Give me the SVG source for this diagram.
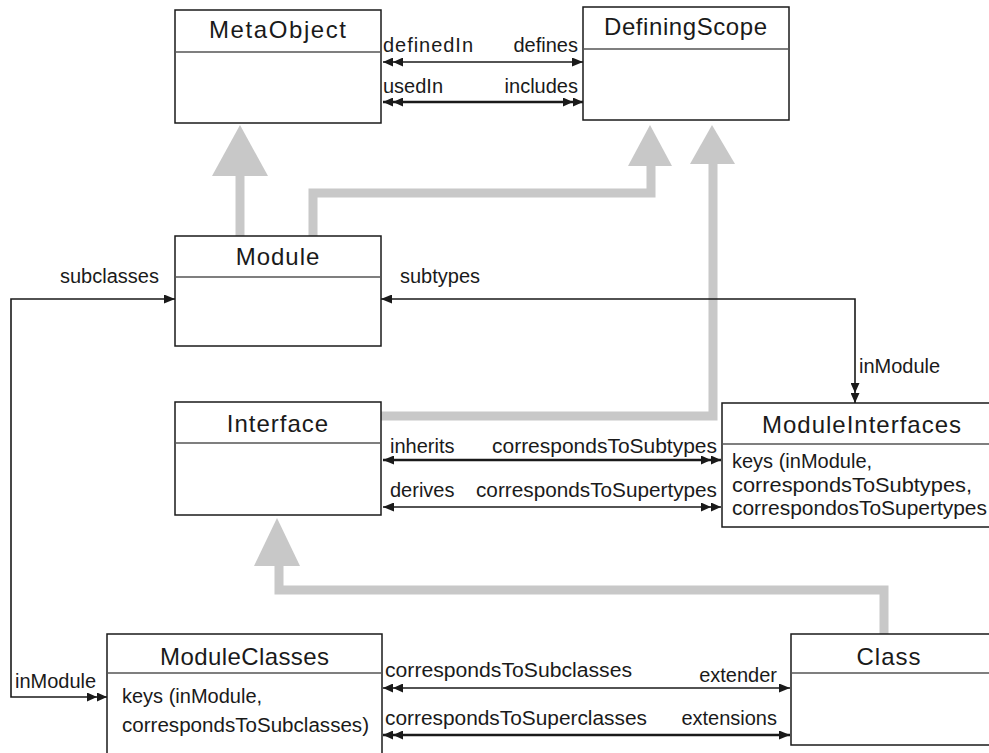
<svg xmlns="http://www.w3.org/2000/svg" width="989" height="753" viewBox="0 0 989 753">
<style>
.box{fill:#fff;stroke:#1a1a1a;stroke-width:1.5}
.hdr{stroke:#555;stroke-width:1.5}
.title{font-family:"Liberation Sans",Arial,sans-serif;font-size:24px;fill:#1a1a1a;text-anchor:middle;letter-spacing:1px}
.lbl{font-family:"Liberation Sans",Arial,sans-serif;font-size:20px;fill:#1a1a1a}
.r{text-anchor:end}
.gen{fill:none;stroke:#c8c8c8;stroke-width:9}
.tri{fill:#c8c8c8}
.ln{fill:none;stroke:#1a1a1a;stroke-width:1.6}
.thk{stroke-width:2.4}
</style>
<defs>
<marker id="a1" viewBox="0 0 11 9" markerWidth="11" markerHeight="9" refX="11" refY="4.5" orient="auto-start-reverse" markerUnits="userSpaceOnUse"><path d="M0,0 L11,4.5 L0,9 z" fill="#1a1a1a"/></marker>
<marker id="a2" viewBox="0 0 20 9" markerWidth="20" markerHeight="9" refX="20" refY="4.5" orient="auto-start-reverse" markerUnits="userSpaceOnUse"><path d="M0,0 L10,4.5 L0,9 z M10,0 L20,4.5 L10,9 z" fill="#1a1a1a"/></marker>
</defs>

<g id="generalizations">
<path class="gen" d="M240,236 V172"/>
<polygon class="tri" points="240,125 212,176 268,176"/>
<path class="gen" d="M313,236 V193 H651 V162"/>
<polygon class="tri" points="650,125 628,166 672,166"/>
<path class="gen" d="M381,416 H713 V160"/>
<polygon class="tri" points="712,125 690,164 735,164"/>
<path class="gen" d="M884,634 V590 H279 V562"/>
<polygon class="tri" points="277,518 254,566 300,566"/>
</g>

<g id="MetaObject">
<rect class="box" x="175" y="10" width="206" height="113"/>
<line class="hdr" x1="175" y1="52" x2="381" y2="52"/>
<text class="title" x="278" y="38" textLength="138" lengthAdjust="spacing">MetaObject</text>
</g>

<g id="DefiningScope">
<rect class="box" x="583" y="7" width="206" height="113"/>
<line class="hdr" x1="583" y1="49" x2="789" y2="49"/>
<text class="title" x="686" y="35" textLength="164" lengthAdjust="spacing">DefiningScope</text>
</g>

<g id="Module">
<rect class="box" x="175" y="236" width="206" height="110"/>
<line class="hdr" x1="175" y1="277" x2="381" y2="277"/>
<text class="title" x="278" y="265">Module</text>
</g>

<g id="Interface">
<rect class="box" x="175" y="402" width="206" height="113"/>
<line class="hdr" x1="175" y1="443" x2="381" y2="443"/>
<text class="title" x="278" y="432">Interface</text>
</g>

<g id="ModuleInterfaces">
<rect class="box" x="722" y="403" width="275" height="124"/>
<line class="hdr" x1="722" y1="444" x2="989" y2="444"/>
<text class="title" x="862" y="433" textLength="200" lengthAdjust="spacing">ModuleInterfaces</text>
<text class="lbl" x="732" y="468">keys (inModule,</text>
<text class="lbl" x="732" y="492" textLength="240" lengthAdjust="spacingAndGlyphs">correspondsToSubtypes,</text>
<text class="lbl" x="732" y="515" textLength="255" lengthAdjust="spacingAndGlyphs">correspondosToSupertypes</text>
</g>

<g id="ModuleClasses">
<rect class="box" x="107" y="634" width="275" height="125"/>
<line class="hdr" x1="107" y1="673" x2="382" y2="673"/>
<text class="title" x="245" y="665" textLength="170" lengthAdjust="spacing">ModuleClasses</text>
<text class="lbl" x="122" y="703">keys (inModule,</text>
<text class="lbl" x="122" y="732" textLength="247" lengthAdjust="spacingAndGlyphs">correspondsToSubclasses)</text>
</g>

<g id="Class">
<rect class="box" x="791" y="634" width="205" height="111"/>
<line class="hdr" x1="791" y1="673" x2="989" y2="673"/>
<text class="title" x="889" y="665">Class</text>
</g>

<g id="connectors">
<path class="ln" d="M383,62 H583" marker-start="url(#a2)" marker-end="url(#a1)"/>
<text class="lbl" x="383" y="52" textLength="90" lengthAdjust="spacing">definedIn</text>
<text class="lbl r" x="578" y="52">defines</text>

<path class="ln thk" d="M383,102 H583" marker-start="url(#a2)" marker-end="url(#a2)"/>
<text class="lbl" x="383" y="93">usedIn</text>
<text class="lbl r" x="578" y="93">includes</text>

<path class="ln thk" d="M383,460 H721" marker-start="url(#a1)" marker-end="url(#a2)"/>
<text class="lbl" x="390" y="453">inherits</text>
<text class="lbl r" x="717" y="453" textLength="225" lengthAdjust="spacingAndGlyphs">correspondsToSubtypes</text>

<path class="ln" d="M383,507 H721" marker-start="url(#a1)" marker-end="url(#a2)"/>
<text class="lbl" x="390" y="497">derives</text>
<text class="lbl r" x="717" y="497" textLength="241" lengthAdjust="spacingAndGlyphs">correspondsToSupertypes</text>

<path class="ln" d="M383,688 H790" marker-start="url(#a2)" marker-end="url(#a1)"/>
<text class="lbl" x="385" y="677" textLength="247" lengthAdjust="spacingAndGlyphs">correspondsToSubclasses</text>
<text class="lbl r" x="777" y="682">extender</text>

<path class="ln thk" d="M383,735 H790" marker-start="url(#a2)" marker-end="url(#a1)"/>
<text class="lbl" x="385" y="725" textLength="262" lengthAdjust="spacingAndGlyphs">correspondsToSuperclasses</text>
<text class="lbl r" x="777" y="725">extensions</text>

<path class="ln" d="M107,697 H11 V299 H175" marker-start="url(#a2)" marker-end="url(#a1)"/>
<text class="lbl" x="60" y="283">subclasses</text>
<text class="lbl" x="15" y="688">inModule</text>

<path class="ln" d="M381,299 H855 V403" marker-start="url(#a1)" marker-end="url(#a2)"/>
<text class="lbl" x="400" y="283">subtypes</text>
<text class="lbl" x="859" y="373">inModule</text>
</g>
</svg>
